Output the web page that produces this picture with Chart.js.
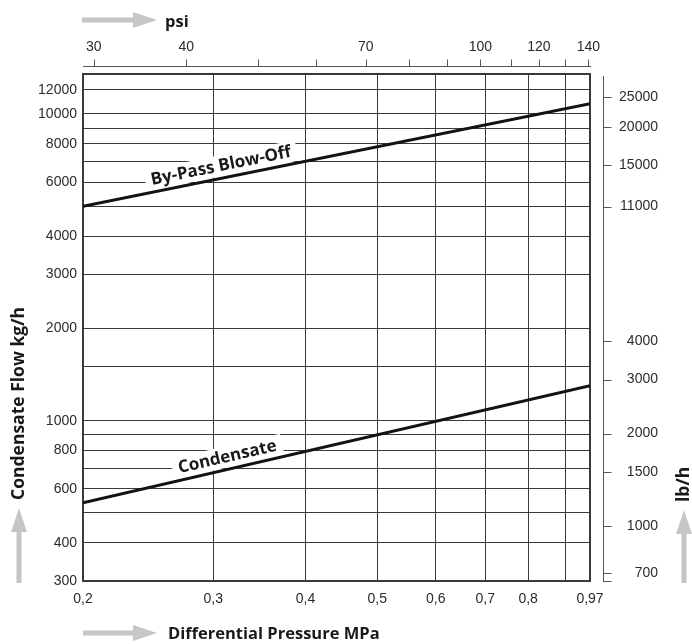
<!DOCTYPE html>
<html>
<head>
<meta charset="utf-8">
<script src="https://cdn.jsdelivr.net/npm/chart.js@4.4.1/dist/chart.umd.min.js"></script>
<style>
  html, body { margin: 0; padding: 0; background: #fff; }
</style>
</head>
<body>
<canvas id="flowChart" width="692" height="644"></canvas>
<script>
// values (log-log)
const pressureMPa = [0.2, 0.97];
const bypassFlow = [5000, 10800];
const condensateFlow = [540, 1300];

const mpaTicks = [0.2, 0.3, 0.4, 0.5, 0.6, 0.7, 0.8, 0.9, 0.97];
const mpaLabelled = [0.2, 0.3, 0.4, 0.5, 0.6, 0.7, 0.8, 0.97];
const kgTicks = [300, 400, 500, 600, 700, 800, 900, 1000, 1500, 2000, 3000, 4000, 5000, 6000, 7000, 8000, 9000, 10000, 12000];
const kgLabelled = [300, 400, 600, 800, 1000, 2000, 3000, 4000, 6000, 8000, 10000, 12000];
const psiTicks = [30, 40, 50, 60, 70, 80, 90, 100, 110, 120, 130, 140];
const psiLabelled = [30, 40, 70, 100, 120, 140];
const lbTicks = [700, 1000, 1500, 2000, 3000, 4000, 11000, 15000, 20000, 25000];

const X_MIN = 0.2;
const X_MAX = 0.97;
const Y_MIN = 300;
const Y_MAX = 13500;
const PSI_PER_MPA = 145.038;
const LB_PER_KG = 2.20462;

const INK = '#3f3838';
const TEXT = '#2e2a2a';
const ARROW = '#c6c6c6';
const TICK_FONT = { family: "'Liberation Sans', Arial, sans-serif", size: 14 };
const TITLE_FONT = "bold 16.5px 'Open Sans', sans-serif";
const SIDE_TITLE_FONT = "bold 17.5px 'Open Sans', sans-serif";
const LINE_LABEL_FONT = "bold 17px 'Open Sans', sans-serif";

const drawArrow = (ctx, x0, y0, x1, y1) => {
  const ang = Math.atan2(y1 - y0, x1 - x0);
  const len = Math.hypot(x1 - x0, y1 - y0);
  ctx.save();
  ctx.translate(x0, y0);
  ctx.rotate(ang);
  ctx.fillStyle = ARROW;
  ctx.fillRect(0, -2.5, len - 22, 5);
  ctx.beginPath();
  ctx.moveTo(len - 24, -8);
  ctx.lineTo(len, 0);
  ctx.lineTo(len - 24, 8);
  ctx.closePath();
  ctx.fill();
  ctx.restore();
};

// spot along a dataset's line, lifted above it
const labelSpot = (chart, index, t, lift) => {
  const pts = chart.getDatasetMeta(index).data;
  const p0 = pts[0];
  const p1 = pts[pts.length - 1];
  const ang = Math.atan2(p1.y - p0.y, p1.x - p0.x);
  return {
    x: p0.x + t * (p1.x - p0.x) + Math.sin(ang) * lift,
    y: p0.y + t * (p1.y - p0.y) - Math.cos(ang) * lift,
    ang: ang
  };
};

const lineLabels = [
  { index: 0, text: 'By-Pass Blow-Off', t: 0.277 },
  { index: 1, text: 'Condensate', t: 0.29 }
];

const lineLabelPlugin = {
  id: 'lineLabels',
  beforeDatasetsDraw(chart) {
    const ctx = chart.ctx;
    ctx.save();
    ctx.font = LINE_LABEL_FONT;
    lineLabels.forEach(l => {
      const s = labelSpot(chart, l.index, l.t, 12);
      const w = ctx.measureText(l.text).width + 12;
      ctx.save();
      ctx.translate(s.x, s.y);
      ctx.rotate(s.ang);
      ctx.fillStyle = '#fff';
      ctx.fillRect(-w / 2, -11, w, 21);
      ctx.restore();
    });
    ctx.restore();
  },
  afterDatasetsDraw(chart) {
    const ctx = chart.ctx;
    ctx.save();
    ctx.font = LINE_LABEL_FONT;
    ctx.fillStyle = '#1c1818';
    ctx.textAlign = 'center';
    ctx.textBaseline = 'middle';
    lineLabels.forEach(l => {
      const s = labelSpot(chart, l.index, l.t, 12);
      ctx.save();
      ctx.translate(s.x, s.y);
      ctx.rotate(s.ang);
      ctx.fillText(l.text, 0, 0);
      ctx.restore();
    });
    ctx.restore();
  }
};

const sideAxesPlugin = {
  id: 'sideAxes',
  afterDraw(chart) {
    const ctx = chart.ctx;
    const area = chart.chartArea;
    const top = chart.scales.x2;
    const right = chart.scales.y2;
    ctx.save();
    ctx.strokeStyle = '#555';
    ctx.lineWidth = 1;

    // psi axis above the frame
    const ty = area.top - 7.5;
    ctx.beginPath();
    ctx.moveTo(area.left, ty);
    ctx.lineTo(area.right + 1, ty);
    psiTicks.forEach(v => {
      const px = Math.round(top.getPixelForValue(v)) + 0.5;
      ctx.moveTo(px, ty);
      ctx.lineTo(px, ty - 7);
    });
    ctx.stroke();

    // lb/h axis right of the frame
    const rx = area.right + 13.5;
    ctx.beginPath();
    ctx.moveTo(rx, area.top + 2);
    ctx.lineTo(rx, area.bottom + 1);
    lbTicks.forEach(v => {
      const py = Math.round(right.getPixelForValue(v)) + 0.5;
      ctx.moveTo(rx, py);
      ctx.lineTo(rx + 8, py);
    });
    ctx.moveTo(rx, area.bottom + 0.5);
    ctx.lineTo(rx + 8, area.bottom + 0.5);
    ctx.stroke();

    // titles and arrows
    drawArrow(ctx, 82, 20, 157, 20);
    drawArrow(ctx, 83, 633, 157, 633);
    drawArrow(ctx, 19, 583, 19, 508);
    drawArrow(ctx, 684, 583, 684, 510);

    ctx.font = TITLE_FONT;
    ctx.fillStyle = '#1c1818';
    ctx.textBaseline = 'middle';
    ctx.textAlign = 'left';
    ctx.fillText('psi', 165, 22);
    ctx.fillText('Differential Pressure MPa', 168, 634);
    ctx.font = SIDE_TITLE_FONT;
    [['Condensate Flow kg/h', 19, 500], ['lb/h', 684, 502]].forEach(([txt, x, y]) => {
      ctx.save();
      ctx.translate(x, y);
      ctx.rotate(-Math.PI / 2);
      ctx.fillText(txt, 0, 0);
      ctx.restore();
    });
    ctx.restore();
  }
};

const commaNum = (v) => String(v).replace('.', ',');

new Chart(document.getElementById('flowChart'), {
  type: 'line',
  data: {
    datasets: [{
      label: 'By-Pass Blow-Off',
      data: pressureMPa.map((x, i) => ({ x: x, y: bypassFlow[i] })),
      borderColor: '#161212',
      borderWidth: 3,
      pointRadius: 0,
      xAxisID: 'x',
      yAxisID: 'y'
    }, {
      label: 'Condensate',
      data: pressureMPa.map((x, i) => ({ x: x, y: condensateFlow[i] })),
      borderColor: '#161212',
      borderWidth: 3,
      pointRadius: 0,
      xAxisID: 'x',
      yAxisID: 'y'
    }]
  },
  options: {
    responsive: false,
    animation: false,
    devicePixelRatio: 1,
    layout: { padding: { left: 0, top: 0, bottom: 0, right: 34 } },
    plugins: {
      legend: { display: false },
      tooltip: { enabled: false }
    },
    scales: {
      x: {
        type: 'logarithmic',
        position: 'bottom',
        min: X_MIN,
        max: X_MAX,
        afterBuildTicks: s => { s.ticks = mpaTicks.map(v => ({ value: v })); },
        afterFit: s => { s.height = 63; },
        ticks: {
          autoSkip: false,
          maxRotation: 0,
          padding: 10,
          color: TEXT,
          font: TICK_FONT,
          callback: v => mpaLabelled.includes(v) ? commaNum(v) : ''
        },
        grid: { color: INK, lineWidth: 1, drawTicks: false },
        border: { color: INK, width: 2 }
      },
      x2: {
        type: 'logarithmic',
        position: 'top',
        min: X_MIN * PSI_PER_MPA,
        max: X_MAX * PSI_PER_MPA,
        afterBuildTicks: s => { s.ticks = psiTicks.map(v => ({ value: v })); },
        afterFit: s => { s.height = 74; },
        ticks: {
          autoSkip: false,
          maxRotation: 0,
          padding: 18,
          color: TEXT,
          font: TICK_FONT,
          callback: v => psiLabelled.includes(v) ? String(v) : ''
        },
        grid: { display: false, drawTicks: false },
        border: { color: INK, width: 2 }
      },
      y: {
        type: 'logarithmic',
        position: 'left',
        min: Y_MIN,
        max: Y_MAX,
        afterBuildTicks: s => { s.ticks = kgTicks.map(v => ({ value: v })); },
        afterFit: s => { s.width = 83; },
        ticks: {
          autoSkip: false,
          padding: 6,
          color: TEXT,
          font: TICK_FONT,
          callback: v => kgLabelled.includes(v) ? String(v) : ''
        },
        grid: { color: INK, lineWidth: 1, drawTicks: false },
        border: { color: INK, width: 2 }
      },
      y2: {
        type: 'logarithmic',
        position: 'right',
        min: Y_MIN * LB_PER_KG,
        max: Y_MAX * LB_PER_KG,
        afterBuildTicks: s => { s.ticks = lbTicks.map(v => ({ value: v })); },
        afterFit: s => { s.width = 68; },
        ticks: {
          autoSkip: false,
          padding: 30,
          crossAlign: 'far',
          color: TEXT,
          font: TICK_FONT,
          callback: v => String(v)
        },
        grid: { display: false, drawTicks: false },
        border: { color: INK, width: 2 }
      }
    }
  },
  plugins: [lineLabelPlugin, sideAxesPlugin]
});
</script>
</body>
</html>
